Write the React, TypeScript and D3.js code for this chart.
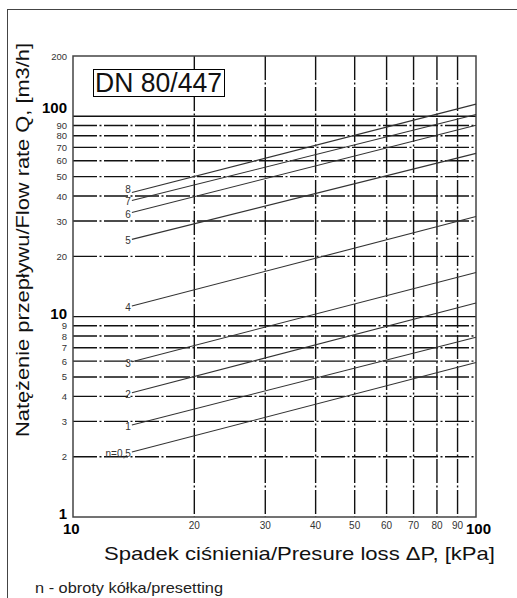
import * as d3 from 'd3';

// presetting curves: flow at the start of the curve and at 100 kPa
const presettings = ['n=0,5', '1', '2', '3', '4', '5', '6', '7', '8'];
const flowAtStart = [2.11, 2.88, 4.17, 5.96, 11.3, 24.3, 33.1, 38.0, 41.7];
const flowAtEnd = [5.9, 7.9, 11.7, 16.6, 31.6, 65.3, 90.2, 102, 115];
const pressureRange = [14, 100];

const xGrid = [20, 30, 40, 50, 60, 70, 80, 90];
const xMajorLabels = [10, 100];
const yGridDashed = [2, 3, 4, 5, 6, 7, 8, 9, 20, 30, 40, 50, 60, 70, 80, 90];
const yGridSolid = [10, 100];
const yMinorLabels = [2, 3, 4, 5, 6, 7, 8, 9, 20, 30, 40, 50, 60, 70, 80, 90, 200];
const yMajorLabels = [1, 10, 100];

const W = 517;
const H = 598;
const left = 73, right = 476, top = 56, bottom = 517;
const font = '"Liberation Sans", Arial, sans-serif';
const dashDot = '24,2.5,2,2.5';

export default function App() {
  const x = d3.scaleLog().domain([10, 100]).range([left, right]);
  const y = d3.scaleLog().domain([1, 200]).range([bottom, top]);
  const line = d3.line<[number, number]>(d => x(d[0]), d => y(d[1]));

  const majorDy: Record<number, number> = { 1: 2, 10: 2, 100: -3 };
  // the top label sits level with its curve, the others just below
  const labelDy = (p: string) => (p === '8' ? 1 : 5);

  return (
    <svg width={W} height={H} style={{ position: 'absolute', left: 0, top: 0 }} fontFamily={font}>
      <rect width={W} height={H} fill="white" />
      {/* outer frame */}
      <rect x={7.5} y={9.5} width={W + 20} height={H + 20} fill="none" stroke="#444" strokeWidth={1} />

      {/* grid */}
      <g stroke="#111" strokeWidth={1.4}>
        {yGridDashed.map(v => (
          <line key={'hd' + v} x1={left} x2={right} y1={y(v)} y2={y(v)} strokeDasharray={dashDot} />
        ))}
        {yGridSolid.map(v => (
          <line key={'hs' + v} x1={left} x2={right} y1={y(v)} y2={y(v)} />
        ))}
        {xGrid.map(v => (
          <line key={'v' + v} x1={x(v)} x2={x(v)} y1={top} y2={bottom} strokeDasharray={dashDot} />
        ))}
      </g>
      <rect x={left} y={top} width={right - left} height={bottom - top} fill="none" stroke="#444" strokeWidth={1.5} />

      {/* curves */}
      <g stroke="#333" strokeWidth={1.1} fill="none">
        {presettings.map((p, i) => (
          <path key={p} d={line([[pressureRange[0], flowAtStart[i]], [pressureRange[1], flowAtEnd[i]]]) || ''} />
        ))}
      </g>
      <g fontSize={10} fill="#333" textAnchor="end">
        {presettings.map((p, i) => (
          <text key={p} x={x(pressureRange[0]) - 1} y={y(flowAtStart[i]) + labelDy(p)}>{p}</text>
        ))}
      </g>

      {/* y tick labels */}
      <g fontSize={9.5} fill="#333" textAnchor="end">
        {yMinorLabels.map(v => (
          <text key={v} x={67} y={y(v) + 3.5}>{v}</text>
        ))}
      </g>
      <g fontSize={15} fontWeight="bold" fill="#000" textAnchor="end">
        {yMajorLabels.map(v => (
          <text key={v} x={67} y={y(v) + majorDy[v]}>{v}</text>
        ))}
      </g>

      {/* x tick labels */}
      <g fontSize={10} fill="#333" textAnchor="middle">
        {xGrid.map(v => (
          <text key={v} x={x(v)} y={529}>{v}</text>
        ))}
      </g>
      <g fontSize={15} fontWeight="bold" fill="#000" textAnchor="start">
        {xMajorLabels.map(v => (
          <text key={v} x={x(v) - 10} y={534}>{v}</text>
        ))}
      </g>

      {/* title box */}
      <rect x={93.5} y={69.5} width={131} height={27} fill="white" stroke="#000" strokeWidth={1} />
      <text x={95} y={92} fontSize={27} fill="#111" textLength={127} lengthAdjust="spacingAndGlyphs">DN 80/447</text>

      {/* axis titles */}
      <text x={104} y={560} fontSize={19} fill="#111" textLength={391} lengthAdjust="spacingAndGlyphs">
        Spadek ciśnienia/Presure loss ΔP, [kPa]
      </text>
      <text transform="translate(29,437) rotate(-90)" fontSize={19} fill="#111" textLength={394} lengthAdjust="spacingAndGlyphs">
        Natężenie przepływu/Flow rate Q, [m3/h]
      </text>
      <text x={35} y={593} fontSize={15} fill="#222" textLength={188} lengthAdjust="spacingAndGlyphs">
        n - obroty kółka/presetting
      </text>
    </svg>
  );
}
